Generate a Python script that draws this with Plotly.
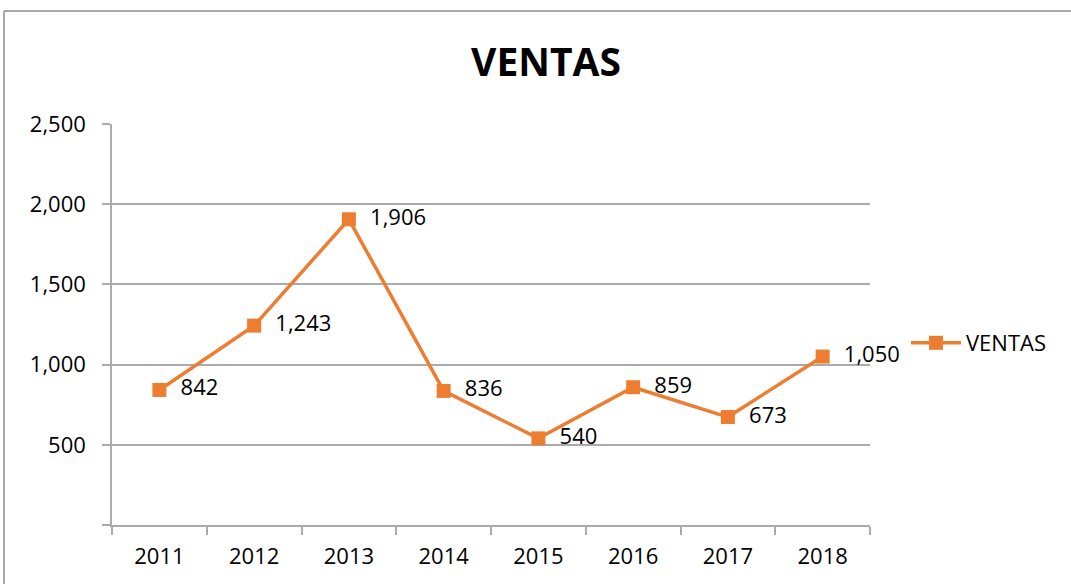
import plotly.graph_objects as go

years = ["2011", "2012", "2013", "2014", "2015", "2016", "2017", "2018"]
ventas = [842, 1243, 1906, 836, 540, 859, 673, 1050]
y_ticks = [0, 500, 1000, 1500, 2000, 2500]
y_ticktext = ["", "500", "1,000", "1,500", "2,000", "2,500"]

FONT = "'Open Sans', 'Noto Sans', sans-serif"
ORANGE = "#ED7D31"
GRID = "#ABABAB"

fig = go.Figure()
fig.add_trace(go.Scatter(
    x=years, y=ventas, name="VENTAS",
    mode="lines+markers+text",
    line=dict(color=ORANGE, width=3.5),
    marker=dict(symbol="square", size=14, color=ORANGE),
    text=[f"{v:,}" for v in ventas],
    texttemplate="  %{text}",
    textposition="middle right",
    textfont=dict(family=FONT, size=22, color="#000000"),
    cliponaxis=False,
))

W, H = 1071, 584
L, R, T, B = 112, 201, 124, 59
pw, ph = W - L - R, H - T - B

def px_x(x):
    return (x - L) / pw

def px_y(y):
    return (H - B - y) / ph

fig.update_layout(
    width=W, height=H,
    margin=dict(l=L, r=R, t=T, b=B),
    paper_bgcolor="white", plot_bgcolor="white",
    font=dict(family=FONT, size=22, color="#000000"),
    title=dict(text="<b>VENTAS</b>", xref="container", x=546 / W, xanchor="center",
               y=1 - 62 / H, yanchor="middle",
               font=dict(family=FONT, size=39, color="#000000")),
    showlegend=True,
    legend=dict(x=px_x(906), y=px_y(343), xanchor="left", yanchor="middle",
                itemwidth=50,
                font=dict(family=FONT, size=22, color="#000000"),
                bgcolor="rgba(0,0,0,0)"),
    xaxis=dict(
        type="category", range=[-0.5, 7.5],
        showline=True, linecolor=GRID, linewidth=1.5,
        ticks="outside", ticklen=8, tickcolor=GRID, tickwidth=1.5,
        tickson="boundaries", showgrid=False,
        ticklabelstandoff=11,
        tickfont=dict(family=FONT, size=22, color="#000000"),
    ),
    yaxis=dict(
        range=[0, 2500], tickvals=y_ticks, ticktext=y_ticktext,
        showline=True, linecolor=GRID, linewidth=1.5,
        showgrid=True, gridcolor=GRID, gridwidth=1.5,
        ticks="outside", ticklen=8, tickcolor=GRID, tickwidth=1.5,
        ticklabelstandoff=12, zeroline=False,
        tickfont=dict(family=FONT, size=22, color="#000000"),
    ),
)

# outer chart-area border (top and left visible)
fig.add_shape(type="line", xref="paper", yref="paper",
              x0=px_x(4), x1=px_x(1080), y0=px_y(11), y1=px_y(11),
              line=dict(color="#8C8C8C", width=1.5))
fig.add_shape(type="line", xref="paper", yref="paper",
              x0=px_x(4), x1=px_x(4), y0=px_y(11), y1=px_y(600),
              line=dict(color="#8C8C8C", width=1.5))

fig.write_html(
    "out.html",
    config={"displayModeBar": False},
    post_script="document.body.style.margin='0';document.body.style.overflow='hidden';",
)
